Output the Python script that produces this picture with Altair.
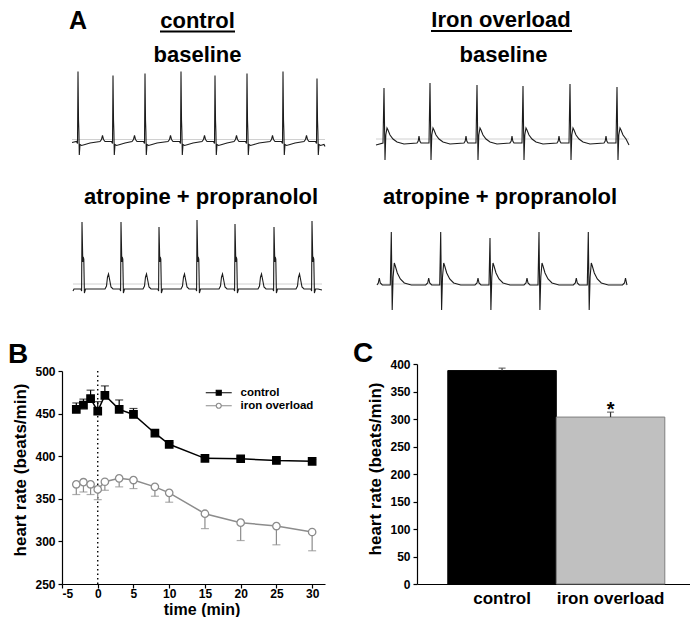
import altair as alt
import pandas as pd

FONT = "Liberation Sans"

# ---------------- texts
panel_letters = ["A", "B", "C"]
group_labels = ["control", "Iron overload"]
condition_labels = ["baseline", "atropine + propranolol"]

# ---------------- Panel A: ECG traces (t = px from trace start, v = px above baseline)
# control / baseline
cb_r_t = [6, 41, 73, 109, 143, 175, 211, 245]
cb_r_v = [70, 66, 68, 70, 66, 68, 70, 63]
cb_beat_t = [-13, -11.5, -10.5, -9.5, -8, -1.5, -0.5, 0, 0.5, 0.9, 1.3, 2, 3.5, 7, 12]
cb_beat_v = [0, 2, 6, 2, 0, 0, -2, "R", 22, 10, -13.5, -3, -4, -3, -1.5]
cb_len, cb_start, cb_end, cb_ref = 253, -1, -5, 2

# iron overload / baseline
ib_r_t = [8, 54, 101, 147, 194, 241]
ib_r_v = [55, 60, 58, 57, 59, 56]
ib_beat_t = [-13, -11.8, -11, -10.2, -9, -1, 0, 1.0, 1.8, 3, 4, 6, 9, 13, 20]
ib_beat_v = [0, 2, 7, 2, 0, 0, "R", -17, 8, 15, 13, 8, 4, 1, -1]
ib_len, ib_start, ib_end, ib_ref = 253, -2, -2, 4

# control / atropine + propranolol
ca_r_t = [9, 48, 86, 124, 162, 201, 239]
ca_r_v = [65, 65, 60, 67, 63, 60, 66]
ca_beat_t = [-16, -14.5, -13.5, -12.5, -11.5, -10, -8, -1, -0.4, 0, 0.8, 1.2, 1.8, 2.4, 3.5, 6]
ca_beat_v = [-2, 1, 10, 13, 8, 0, -2, -2, -4, "R", 25, 30, 28, -6, -2, -2]
ca_len, ca_start, ca_end, ca_ref = 249, -4, -3, 3

# iron overload / atropine + propranolol
ia_r_t = [14.3, 63.7, 113, 162, 211.3, 260.5]
ia_r_v = [53, 53, 47, 53, 53, 53]
ia_beat_t = [-15, -13, -12, -11, -9, -1, 0, 0.9, 1.8, 3, 4, 6, 9, 13, 20]
ia_beat_v = [0, 2, 7, 2, 0, 0, "R", -25, 8, 22, 19, 12, 6, 2, 0]
ia_len, ia_start, ia_end, ia_ref = 250, 0, 0, 1

# ---------------- Panel B: heart rate time course
series_names = ["control", "iron overload"]
time_min = [-3, -2, -1, 0, 1, 3, 5, 8, 10, 15, 20, 25, 30]
control_hr = [455, 460, 467.5, 453, 471.5, 455, 449, 427, 414, 397.5, 397, 395, 394]
control_sem = [7.5, 7, 10, 11, 11, 11, 7, 3, 2, 2, 2, 2, 2]
iron_hr = [367, 369.5, 367, 361, 370, 374, 372, 364, 357, 332.5, 322, 318, 311]
iron_sem = [12, 11.5, 12, 12, 10, 10, 10, 11, 11, 17.5, 21, 22, 22]
drug_time = [0]

# ---------------- Panel C: mean heart rate
groups = ["control", "iron overload"]
group_hr = [388, 303.5]
group_sem = [4.5, 9]
group_sig = ["", "*"]

# ---------------- layout (pixels inside the chart)
W, H = 682, 609
B_X = (54, 317)      # plot B left/right
B_Y = (576, 363)     # plot B bottom/top
C_X = (409, 682)
C_Y = (576, 356)


# ================= helpers
def build_trace(r_t, r_v, beat_t, beat_v, length, start, end):
    t, v = [0.0], [start]
    for rt, rv in zip(r_t, r_v):
        for dt, dv in zip(beat_t, beat_v):
            tt = rt + dt
            if 0 < tt < length:
                t.append(tt)
                v.append(rv if dv == "R" else dv)
    t.append(length)
    v.append(end)
    return pd.DataFrame({"t": t, "v": v})


def label(text, x, y, size, align="center"):
    return alt.Chart(pd.DataFrame({"label": [text]})).mark_text(
        font=FONT, fontSize=size, fontWeight="bold", align=align,
        baseline="alphabetic", color="black"
    ).encode(text="label:N", x=alt.value(x), y=alt.value(y))


def underline(text, x1, x2, y):
    return alt.Chart(pd.DataFrame({"label": [text]})).mark_rule(
        color="black", strokeWidth=1.8
    ).encode(x=alt.value(x1), x2=alt.value(x2), y=alt.value(y))


def trace_chart(df, length, ref, x0, base):
    xs = alt.Scale(domain=[0, length], range=[x0 - 8, x0 - 8 + length], nice=False, zero=False)
    ys = alt.Scale(domain=[-40, 80], range=[base - 8 + 40, base - 8 - 80], nice=False, zero=False)
    ref_df = pd.DataFrame({"t0": [0], "t1": [length], "ref": [ref]})
    ref_rule = alt.Chart(ref_df).mark_rule(color="#c4c4c4", strokeWidth=0.8).encode(
        x=alt.X("t0:Q", scale=xs, axis=None), x2="t1:Q",
        y=alt.Y("ref:Q", scale=ys, axis=None))
    line = alt.Chart(df).mark_line(color="#1c1c1c", strokeWidth=1.1).encode(
        x=alt.X("t:Q", scale=xs, axis=None), y=alt.Y("v:Q", scale=ys, axis=None))
    return alt.layer(ref_rule, line)


# ================= Panel A
trace_pos = {"cb": (72, 141.5), "ib": (376, 143), "ca": (73, 287), "ia": (377, 285)}
cb_df = build_trace(cb_r_t, cb_r_v, cb_beat_t, cb_beat_v, cb_len, cb_start, cb_end)
ib_df = build_trace(ib_r_t, ib_r_v, ib_beat_t, ib_beat_v, ib_len, ib_start, ib_end)
ca_df = build_trace(ca_r_t, ca_r_v, ca_beat_t, ca_beat_v, ca_len, ca_start, ca_end)
ia_df = build_trace(ia_r_t, ia_r_v, ia_beat_t, ia_beat_v, ia_len, ia_start, ia_end)

panel_a = [
    label(panel_letters[0], 70, 21, 25),
    label(group_labels[0], 189.5, 19.5, 22),
    underline(group_labels[0], 152, 227, 23.5),
    label(group_labels[1], 493, 19, 22),
    underline(group_labels[1], 423, 564, 23),
    label(condition_labels[0], 189.5, 54, 22),
    label(condition_labels[0], 495.5, 54, 22),
    label(condition_labels[1], 193, 196, 22),
    label(condition_labels[1], 492, 196, 22),
    trace_chart(cb_df, cb_len, cb_ref, *trace_pos["cb"]),
    trace_chart(ib_df, ib_len, ib_ref, *trace_pos["ib"]),
    trace_chart(ca_df, ca_len, ca_ref, *trace_pos["ca"]),
    trace_chart(ia_df, ia_len, ia_ref, *trace_pos["ia"]),
]

# ================= Panel B
rows = []
for name, hr, sem in [("control", control_hr, control_sem), ("iron overload", iron_hr, iron_sem)]:
    for t, h, s in zip(time_min, hr, sem):
        if name == "control":
            lo, hi, cap = h, h + s, h + s
        else:
            lo, hi, cap = h - s, h, h - s
        rows.append({"series": name, "time": t, "hr": h, "lo": lo, "hi": hi, "cap": cap})
b_df = pd.DataFrame(rows)

xsB = alt.Scale(domain=[-5, 31.8], range=list(B_X), nice=False, zero=False)
ysB = alt.Scale(domain=[250, 500], range=list(B_Y), nice=False, zero=False)
xaxB = alt.Axis(values=[-5, 0, 5, 10, 15, 20, 25, 30], title="time (min)", orient="bottom",
                offset=B_Y[0] - H, labelExpr="'' + datum.value", labelPadding=0,
                titleFontSize=16, titleX=193.5, titleY=30, titleBaseline="alphabetic",
                titleAlign="center")
yaxB = alt.Axis(values=[250, 300, 350, 400, 450, 500], title="heart rate (beats/min)",
                orient="left", offset=-B_X[0], titleX=-37, titleY=461.5,
                titleBaseline="alphabetic", titleAlign="center", titleAngle=-90)
XB = alt.X("time:Q", scale=xsB, axis=xaxB)

series_style = {
    "control": {"color": "#000000", "shape": "square", "fill": "#000000"},
    "iron overload": {"color": "#8c8c8c", "shape": "circle", "fill": "#ffffff"},
}


def series_layers(name):
    st = series_style[name]
    base = alt.Chart(b_df).transform_filter(alt.datum.series == name)
    err = base.mark_rule(color=st["color"], strokeWidth=1.2).encode(
        x=XB, y=alt.Y("lo:Q", scale=ysB, axis=yaxB), y2="hi:Q")
    cap = base.mark_tick(color=st["color"], orient="horizontal", size=8, thickness=1.2).encode(
        x=XB, y=alt.Y("cap:Q", scale=ysB, axis=yaxB))
    line = base.mark_line(color=st["color"], strokeWidth=1.5).encode(
        x=XB, y=alt.Y("hr:Q", scale=ysB, axis=yaxB))
    pts = base.mark_point(shape=st["shape"], filled=True, fill=st["fill"], stroke=st["color"],
                          strokeWidth=1.3, size=55, opacity=1).encode(
        x=XB, y=alt.Y("hr:Q", scale=ysB, axis=yaxB))
    return err, cap, line, pts


legend_paths = [
    "M-4.33,0L-0.83,0M0.83,0L4.33,0M-0.83,-0.83L0.83,-0.83L0.83,0.83L-0.83,0.83Z",
    "M-4.33,0L-0.83,0M0.83,0L4.33,0M0.83,0A0.83,0.83,0,1,1,-0.83,0A0.83,0.83,0,1,1,0.83,0Z",
]
leg = alt.Legend(title=None, orient="none", legendX=205, legendY=379, symbolSize=36,
                 labelOffset=16, rowPadding=0, padding=0, labelFont=FONT, labelFontSize=11.5,
                 labelFontWeight="bold", labelColor="black", symbolStrokeWidth=1.2,
                 symbolOpacity=1)
legend_layer = alt.Chart(b_df).transform_filter("false").mark_point(opacity=1).encode(
    color=alt.Color("series:N", scale=alt.Scale(domain=series_names,
                    range=[series_style[s]["color"] for s in series_names]), legend=leg),
    shape=alt.Shape("series:N", scale=alt.Scale(domain=series_names, range=legend_paths), legend=leg),
    fill=alt.Fill("series:N", scale=alt.Scale(domain=series_names,
                  range=[series_style[s]["fill"] for s in series_names]), legend=leg),
)

drug_rule = alt.Chart(pd.DataFrame({"time": drug_time})).mark_rule(
    color="black", strokeWidth=1.4, strokeDash=[1.5, 3]).encode(
    x=XB, y=alt.value(B_Y[1]), y2=alt.value(B_Y[0]))

c_err, c_cap, c_line, c_pts = series_layers("control")
i_err, i_cap, i_line, i_pts = series_layers("iron overload")

panel_b = alt.layer(drug_rule, i_err, i_cap, i_line, c_err, c_cap, c_line, i_pts, c_pts, legend_layer)

# ================= Panel C
c_df = pd.DataFrame({"group": groups, "hr": group_hr, "sem": group_sem, "sig": group_sig})
c_df["hi"] = c_df["hr"] + c_df["sem"]
XC = alt.X("group:N", sort=groups,
           scale=alt.Scale(domain=groups, range=list(C_X), paddingInner=0, paddingOuter=0.258, align=0.55),
           axis=alt.Axis(title=None, labelAngle=0, ticks=False, labelFontSize=17, labelPadding=6,
                         orient="bottom", offset=C_Y[0] - H))
yaxC = alt.Axis(values=list(range(0, 401, 50)), title="heart rate (beats/min)", orient="left",
                offset=-C_X[0], titleX=-37, titleY=460.5, titleBaseline="alphabetic",
                titleAlign="center", titleAngle=-90)
ysC = alt.Scale(domain=[0, 400], range=list(C_Y), nice=False, zero=False)

c_bar_fill = ["#000000", "#c0c0c0"]
c_bar_stroke = ["#000000", "#7f7f7f"]
bars = alt.Chart(c_df).mark_bar(strokeWidth=1).encode(
    x=XC, y=alt.Y("hr:Q", scale=ysC, axis=yaxC),
    fill=alt.Fill("group:N", scale=alt.Scale(domain=groups, range=c_bar_fill), legend=None),
    stroke=alt.Stroke("group:N", scale=alt.Scale(domain=groups, range=c_bar_stroke), legend=None),
)
c_errbar = alt.Chart(c_df).mark_rule(color="#333333", strokeWidth=1.2).encode(
    x=XC, y=alt.Y("hr:Q", scale=ysC, axis=yaxC), y2="hi:Q")
c_capbar = alt.Chart(c_df).mark_tick(color="#333333", orient="horizontal", size=7, thickness=1.2).encode(
    x=XC, y=alt.Y("hi:Q", scale=ysC, axis=yaxC))
c_star = alt.Chart(c_df).mark_text(font=FONT, fontSize=20, fontWeight="bold", dy=4,
                                   baseline="alphabetic", color="black").encode(
    x=XC, y=alt.Y("hi:Q", scale=ysC, axis=yaxC), text="sig:N")

panel_c = alt.layer(bars, c_errbar, c_capbar, c_star)

chart = alt.layer(
    *panel_a,
    panel_b,
    panel_c,
    label(panel_letters[1], 0, 355, 28, align="left"),
    label(panel_letters[2], 345, 354, 28, align="left"),
).resolve_scale(
    x="independent", y="independent", color="independent", fill="independent",
    stroke="independent", shape="independent"
).properties(width=W, height=H, padding=0).configure_axis(
    labelFont=FONT, titleFont=FONT, labelFontWeight="bold", titleFontWeight="bold",
    labelFontSize=12, titleFontSize=17, labelColor="black", titleColor="black",
    domainColor="black", tickColor="black", domainWidth=1.2, tickWidth=1.2, tickSize=4,
    labelPadding=3, grid=False
).configure_view(stroke=None)

chart.save("out.html", embed_options={"renderer": "svg", "actions": False})
